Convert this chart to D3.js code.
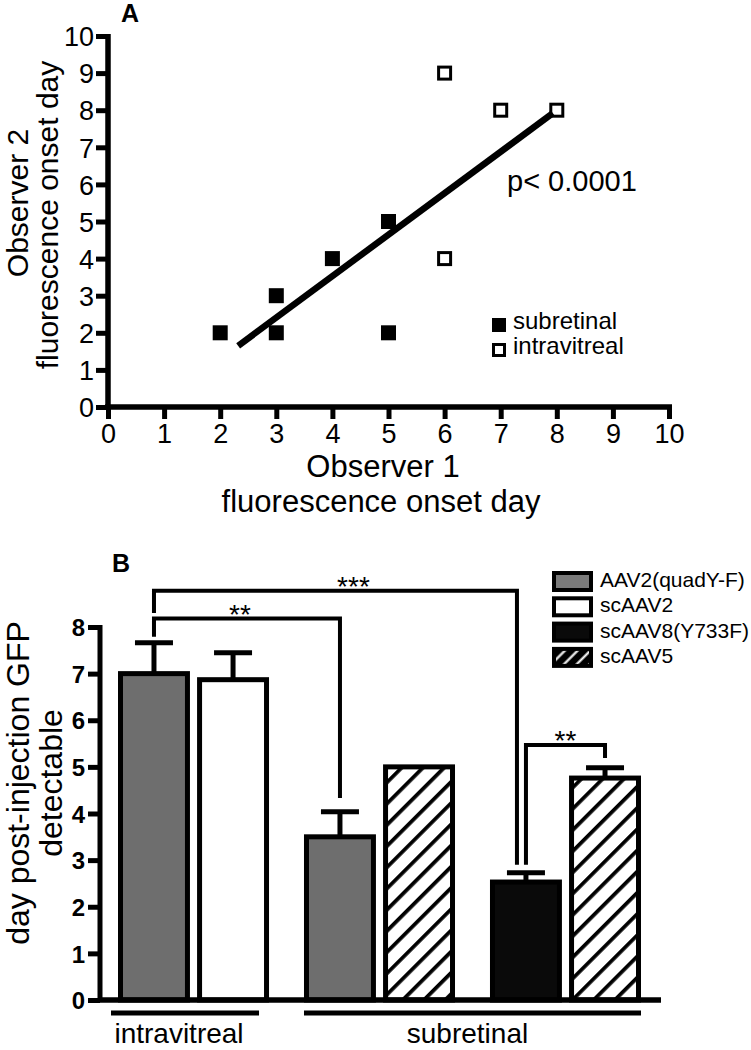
<!DOCTYPE html>
<html><head><meta charset="utf-8">
<script src="https://cdn.jsdelivr.net/npm/d3@7"></script>
<style>
body{margin:0;background:#fff}
svg text{font-family:"Liberation Sans",Arial,Helvetica,sans-serif;fill:#000}
.narrow{font-family:"Liberation Sans Narrow","Liberation Sans",Arial,sans-serif}
</style>
</head><body>
<svg id="c" width="751" height="1050"></svg>
<script>
// ---------- Panel A data ----------
const subretinalX = [2, 3, 3, 4, 5, 5];
const subretinalY = [2, 3, 2, 4, 5, 2];
const intravitrealX = [6, 6, 7, 8];
const intravitrealY = [9, 4, 8, 8];
const fitX = [2.32, 7.93];
const fitY = [1.65, 7.92];
const ticksA = [0,1,2,3,4,5,6,7,8,9,10];
const legendA = ["subretinal", "intravitreal"];

// ---------- Panel B data ----------
const barGroups = ["intravitreal", "subretinal A", "subretinal B"];
const barSeries = ["AAV2(quadY-F)", "scAAV2", "AAV2(quadY-F)", "scAAV5", "scAAV8(Y733F)", "scAAV5"];
const barGroupOf = [0, 0, 1, 1, 2, 2];
const barValues = [7.0, 6.87, 3.5, 5.0, 2.53, 4.76];
const barErrUpper = [0.66, 0.58, 0.54, 0, 0.20, 0.22];
const legendB = ["AAV2(quadY-F)", "scAAV2", "scAAV8(Y733F)", "scAAV5"];
const ticksB = [0,1,2,3,4,5,6,7,8];
const routeLabels = ["intravitreal", "subretinal"];
// significance brackets: from bar, to bar, level, left leg end, right leg end (data units)
const sigFrom = [0, 0, 4];
const sigTo = [4, 2, 5];
const sigLevel = [8.78, 8.18, 5.47];
const sigLeftEnd = [8.3, 7.79, 2.9];
const sigRightEnd = [2.9, 4.33, 5.19];
const sigText = ["***", "**", "**"];

const svg = d3.select("#c");
const defs = svg.append("defs");
const hatch = defs.append("pattern").attr("id","hatch").attr("patternUnits","userSpaceOnUse")
  .attr("width",15).attr("height",15).attr("patternTransform","rotate(45)");
hatch.append("rect").attr("width",15).attr("height",15).attr("fill","#fff");
hatch.append("line").attr("x1",0).attr("y1",0).attr("x2",0).attr("y2",15).attr("stroke","#000").attr("stroke-width",7.5);
const hatchL = defs.append("pattern").attr("id","hatchL").attr("patternUnits","userSpaceOnUse")
  .attr("width",9).attr("height",9).attr("patternTransform","rotate(45)");
hatchL.append("rect").attr("width",9).attr("height",9).attr("fill","#000");
hatchL.append("line").attr("x1",4.5).attr("y1",0).attr("x2",4.5).attr("y2",9).attr("stroke","#fff").attr("stroke-width",2.2);

// ================= Panel A =================
const xA = d3.scaleLinear().domain([0,10]).range([108,669]);
const yA = d3.scaleLinear().domain([0,10]).range([407,36]);
const gA = svg.append("g");

const axBA = gA.append("g").attr("transform",`translate(0,${yA(0)})`)
  .call(d3.axisBottom(xA).tickValues(ticksA).tickSize(12).tickPadding(4).tickFormat(d3.format("d")));
const axLA = gA.append("g").attr("transform",`translate(${xA(0)},0)`)
  .call(d3.axisLeft(yA).tickValues(ticksA).tickSize(12).tickPadding(2).tickFormat(d3.format("d")));
[axBA, axLA].forEach(a=>{
  a.select(".domain").attr("stroke","#000").attr("stroke-width",5.5);
  a.selectAll(".tick line").attr("stroke","#000").attr("stroke-width",5);
  a.selectAll(".tick text").attr("class","narrow").attr("font-size",27).attr("fill","#000");
});
axBA.select(".domain").attr("d",`M${xA(0)-3},0H${xA(10)+3}`);
axLA.select(".domain").attr("d",`M0,${yA(10)-2}V${yA(0)+3}`);
axBA.selectAll(".tick text").attr("dy","0.75em");
axLA.selectAll(".tick text").attr("dy","0.36em");

// fit line
gA.append("line").attr("x1",xA(fitX[0])).attr("y1",yA(fitY[0]))
  .attr("x2",xA(fitX[1])).attr("y2",yA(fitY[1])).attr("stroke","#000").attr("stroke-width",6.5);

const ms = 15;
gA.selectAll("rect.sub").data(subretinalX).join("rect").attr("class","sub")
  .attr("x",(d)=>xA(d)-ms/2).attr("y",(d,i)=>yA(subretinalY[i])-ms/2)
  .attr("width",ms).attr("height",ms).attr("fill","#000");
gA.selectAll("rect.intra").data(intravitrealX).join("rect").attr("class","intra")
  .attr("x",(d)=>xA(d)-ms/2+1.5).attr("y",(d,i)=>yA(intravitrealY[i])-ms/2+1.5)
  .attr("width",ms-3).attr("height",ms-3).attr("fill","none").attr("stroke","#000").attr("stroke-width",3);

gA.append("text").attr("x",507).attr("y",191).attr("font-size",29).text("p< 0.0001");

// legend A
legendA.forEach((t,i)=>{
  const y0 = 318 + i*25;
  if(i===0) gA.append("rect").attr("x",492).attr("y",y0).attr("width",14).attr("height",14).attr("fill","#000");
  else gA.append("rect").attr("x",493.5).attr("y",y0+1.5).attr("width",11).attr("height",11).attr("fill","#fff").attr("stroke","#000").attr("stroke-width",3);
  gA.append("text").attr("x",513).attr("y",y0+11).attr("font-size",24).text(t);
});

gA.append("text").attr("x",121).attr("y",22).attr("font-size",25).attr("font-weight","bold").text("A");
gA.append("text").attr("x",383).attr("y",477).attr("text-anchor","middle").attr("font-size",31).text("Observer 1");
gA.append("text").attr("x",381).attr("y",512).attr("text-anchor","middle").attr("font-size",31).text("fluorescence onset day");
gA.append("text").attr("transform","translate(28,203) rotate(-90)").attr("text-anchor","middle").attr("font-size",30).text("Observer 2");
gA.append("text").attr("transform","translate(58,215) rotate(-90)").attr("text-anchor","middle").attr("font-size",30).text("fluorescence onset day");

// ================= Panel B =================
const yB = d3.scaleLinear().domain([0,8]).range([1000,627]);
const xG = d3.scaleBand().domain(barGroups).range([118,641]).paddingInner(0.188).paddingOuter(0);
const xI = d3.scaleBand().domain([0,1]).range([0,xG.bandwidth()]).paddingInner(0.09);
const gB = svg.append("g");
const barX = (i)=> xG(barGroups[barGroupOf[i]]) + xI(i%2);
const bw = xI.bandwidth();
const barCx = (i)=> barX(i) + bw/2;
const fillOf = (s)=> ({"AAV2(quadY-F)":"#6e6e6e","scAAV2":"#fff","scAAV8(Y733F)":"#0a0a0a","scAAV5":"url(#hatch)"})[s];

const bsw = 5;
gB.selectAll("rect.bar").data(barValues).join("rect").attr("class","bar")
  .attr("x",(d,i)=>barX(i)+bsw/2).attr("y",d=>yB(d))
  .attr("width",bw-bsw).attr("height",d=>yB(0)-yB(d))
  .attr("fill",(d,i)=>fillOf(barSeries[i])).attr("stroke","#000").attr("stroke-width",bsw);

// error bars
barValues.forEach((v,i)=>{
  if(barErrUpper[i]<=0) return;
  const cx = barCx(i);
  gB.append("line").attr("x1",cx).attr("x2",cx).attr("y1",yB(v)).attr("y2",yB(v+barErrUpper[i]))
    .attr("stroke","#000").attr("stroke-width",5);
  gB.append("line").attr("x1",cx-19).attr("x2",cx+19).attr("y1",yB(v+barErrUpper[i])).attr("y2",yB(v+barErrUpper[i]))
    .attr("stroke","#000").attr("stroke-width",5);
});

// axes
const axLB = gB.append("g").attr("transform","translate(100,0)")
  .call(d3.axisLeft(yB).tickValues(ticksB).tickSize(12).tickPadding(3).tickFormat(d3.format("d")));
axLB.select(".domain").attr("d",`M0,${yB(8)-2}V${yB(0)}`).attr("stroke","#000").attr("stroke-width",5);
axLB.selectAll(".tick line").attr("stroke","#000").attr("stroke-width",5);
axLB.selectAll(".tick text").attr("font-size",24).attr("font-weight","bold").attr("fill","#000").attr("dy","0.36em");
gB.append("line").attr("x1",98).attr("x2",661).attr("y1",yB(0)).attr("y2",yB(0)).attr("stroke","#000").attr("stroke-width",5.5);

// significance brackets
sigText.forEach((t,k)=>{
  const xl = barCx(sigFrom[k]);
  const xr = barCx(sigTo[k]) + (k===0 ? -9 : 0);
  const yl = yB(sigLevel[k]);
  gB.append("path").attr("d",`M${xl},${yB(sigLeftEnd[k])}V${yl}H${xr}V${yB(sigRightEnd[k])}`)
    .attr("fill","none").attr("stroke","#000").attr("stroke-width",4);
  gB.append("text").attr("x",(xl+xr)/2 + (k===0?18:(k===1?-7:0))).attr("y",yl+5)
    .attr("text-anchor","middle").attr("font-size",28).text(t);
});

// legend B
legendB.forEach((s,i)=>{
  const y0 = 571 + i*25.3;
  gB.append("rect").attr("x",554).attr("y",y0+2).attr("width",37).attr("height",17)
    .attr("fill", s==="scAAV5" ? "url(#hatchL)" : (s==="AAV2(quadY-F)" ? "#7a7a7a" : fillOf(s)))
    .attr("stroke","#000").attr("stroke-width",4);
  gB.append("text").attr("x",600).attr("y",y0+16).attr("font-size",21).text(s);
});

// group underlines + labels
const lineL = [xG(barGroups[0]) - 7, xG(barGroups[1])];
const lineR = [xG(barGroups[0]) + xG.bandwidth() - 10, xG(barGroups[2]) + xG.bandwidth()];
routeLabels.forEach((t,i)=>{
  gB.append("line").attr("x1",lineL[i]).attr("x2",lineR[i]).attr("y1",1013).attr("y2",1013)
    .attr("stroke","#000").attr("stroke-width",5);
  gB.append("text").attr("x",(lineL[i]+lineR[i])/2 - (i===0?6:5)).attr("y",1043)
    .attr("text-anchor","middle").attr("font-size",28).text(t);
});

gB.append("text").attr("x",112).attr("y",572).attr("font-size",25).attr("font-weight","bold").text("B");
gB.append("text").attr("transform","translate(29,783) rotate(-90)").attr("text-anchor","middle").attr("font-size",32).text("day post-injection GFP");
gB.append("text").attr("transform","translate(62,783) rotate(-90)").attr("text-anchor","middle").attr("font-size",32).text("detectable");
</script>
</body></html>
